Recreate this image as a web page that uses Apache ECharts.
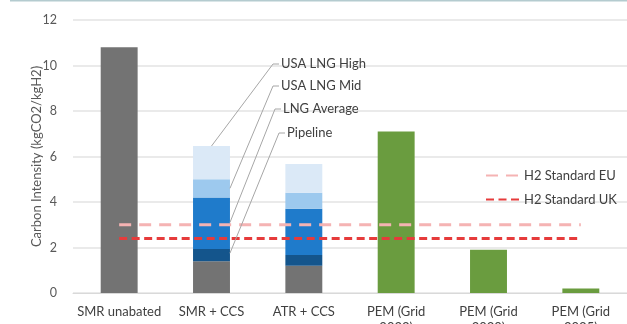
<!DOCTYPE html>
<html><head><meta charset="utf-8">
<script src="https://cdn.jsdelivr.net/npm/echarts@6/dist/echarts.min.js"></script>
<style>html,body{margin:0;padding:0;background:#fff}#c{width:627px;height:324px}</style>
</head><body><div id="c"></div>
<script>
const categories = ['SMR unabated', 'SMR + CCS', 'ATR + CCS', 'PEM (Grid\n2023)', 'PEM (Grid\n2030)', 'PEM (Grid\n2035)'];
const baseGrey = [10.8, 1.4, 1.2, null, null, null];
const pipeline = [null, 0.53, 0.47, null, null, null];
const lngAverage = [null, 2.27, 2.03, null, null, null];
const usaLngMid = [null, 0.8, 0.71, null, null, null];
const usaLngHigh = [null, 1.46, 1.26, null, null, null];
const pem = [null, null, null, 7.1, 1.9, 0.2];
const h2EU = [3, 3, 3, 3, 3, 3];
const h2UK = [2.4, 2.4, 2.4, 2.4, 2.4, 2.4];
const yTicks = [0, 2, 4, 6, 8, 10, 12];
const annotations = ['USA LNG High', 'USA LNG Mid', 'LNG Average', 'Pipeline'];

const FONT = 'Lato';
const chart = echarts.init(document.getElementById('c'), null, {renderer: 'canvas'});
function bar(name, data, color) {
  return {name, type: 'bar', stack: 'a', data, barWidth: '40%', itemStyle: {color}, emphasis: {disabled: true}};
}
chart.setOption({
  animation: false,
  textStyle: {fontFamily: FONT},
  grid: {left: 73, right: 0, top: 20, bottom: 31, containLabel: false, outerBoundsMode: 'none'},
  legend: {
    data: ['H2 Standard EU', 'H2 Standard UK'],
    orient: 'vertical', left: 480, top: 164, itemWidth: 33, itemHeight: 14, itemGap: 11,
    itemStyle: {opacity: 0},
    textStyle: {fontFamily: FONT, fontSize: 13, color: '#404040'}
  },
  xAxis: {
    type: 'category', data: categories,
    axisLine: {lineStyle: {color: '#d9d9d9', width: 1}},
    axisTick: {show: false},
    axisLabel: {fontFamily: FONT, fontSize: 13, color: '#404040', margin: 11, lineHeight: 16, interval: 0}
  },
  yAxis: {
    type: 'value', min: yTicks[0], max: yTicks[yTicks.length - 1], interval: 2,
    name: 'Carbon Intensity (kgCO2/kgH2)', nameLocation: 'middle', nameGap: 30, nameMoveOverlap: false,
    nameTextStyle: {fontFamily: FONT, fontSize: 13, color: '#595959'},
    axisLine: {show: false}, axisTick: {show: false},
    axisLabel: {fontFamily: FONT, fontSize: 12.5, color: '#595959', margin: 16},
    splitLine: {lineStyle: {color: '#e3e3e3', width: 1.5}}
  },
  series: [
    bar('Base', baseGrey, '#737373'),
    bar('Pipeline', pipeline, '#14558c'),
    bar('LNG Average', lngAverage, '#1f7bcb'),
    bar('USA LNG Mid', usaLngMid, '#9dc9ee'),
    bar('USA LNG High', usaLngHigh, '#dbe9f7'),
    bar('PEM', pem, '#6a9c3f'),
    {name: 'H2 Standard EU', type: 'line', data: h2EU, symbol: 'none', z: 5,
     lineStyle: {color: '#f5b3b3', width: 3, type: [12, 8]}, itemStyle: {color: '#f5b3b3'}},
    {name: 'H2 Standard UK', type: 'line', data: h2UK, symbol: 'none', z: 5,
     lineStyle: {color: '#e63b3b', width: 3, type: [8, 4.5]}, itemStyle: {color: '#e63b3b'}}
  ]
});

// leader-line annotations for SMR + CCS stack
const px = (i, v) => chart.convertToPixel({xAxisIndex: 0, yAxisIndex: 0}, [i, v]);
const band = px(2, 0)[0] - px(1, 0)[0];
const halfBar = band * 0.2;
const c1 = px(1, 0)[0];
const targets = [
  [c1, px(1, 6.46)[1]],
  [c1 + halfBar, px(1, 4.6)[1]],
  [c1 + halfBar, px(1, 3.1)[1]],
  [c1 + halfBar, px(1, 1.75)[1]]
];
const labelPos = [[281, 64, 273], [281, 86, 273], [283, 109, 275], [287, 133, 279]];
const graphic = [
  {type: 'rect', shape: {x: 10, y: 0, width: 617, height: 1.5}, style: {fill: '#b4cbcf'}, silent: true}
];
annotations.forEach((t, i) => {
  const [tx, ty, lx] = labelPos[i];
  graphic.push({type: 'polyline', z: 10, silent: true,
    shape: {points: [[tx - 2, ty], [lx, ty], targets[i]]},
    style: {stroke: '#a6a6a6', lineWidth: 1, fill: null}});
  graphic.push({type: 'text', z: 10, silent: true, x: tx, y: ty,
    style: {text: t, fill: '#404040', font: '13px ' + FONT, textVerticalAlign: 'middle', verticalAlign: 'middle'}});
});
chart.setOption({graphic});
</script></body></html>
